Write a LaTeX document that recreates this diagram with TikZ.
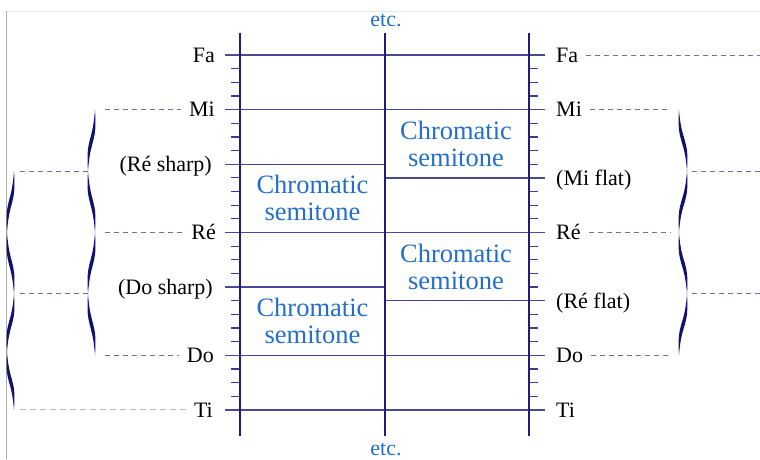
\documentclass[tikz,border=0pt]{standalone}
\usepackage{fontspec}
\setmainfont{Liberation Serif}
\definecolor{axisc}{RGB}{30,30,120}
\definecolor{hlinec}{RGB}{72,72,150}
\definecolor{tickc}{RGB}{60,60,140}
\definecolor{dashc}{RGB}{110,110,170}
\definecolor{greyd}{RGB}{185,185,185}
\definecolor{bracec}{RGB}{18,18,110}
\definecolor{blu}{RGB}{35,110,200}
\definecolor{framec}{RGB}{175,175,175}
\definecolor{framet}{RGB}{232,232,232}
% one arm of a wavy brace: end x, end y, tip x, tip y, half width
\newcommand\myarm[5]{%
  \fill[bracesty] (#1,#2) .. controls (#1-#5,{#2+0.55*(#4-#2)}) and (#3-#5,{#4-0.55*(#4-#2)}) .. (#3,#4)
    .. controls (#3+#5,{#4-0.55*(#4-#2)}) and (#1+#5,{#2+0.55*(#4-#2)}) .. cycle;}
\begin{document}
\begin{tikzpicture}[x=1pt,y=-1pt,
  lab/.style={font=\fontsize{22}{26}\selectfont, inner sep=0pt, text height=14.6pt, text depth=0pt},
  chrom/.style={font=\fontsize{26.5}{27}\selectfont, text=blu, align=center, inner sep=0pt},
  etcsty/.style={font=\fontsize{22}{24}\selectfont, text=blu, inner sep=0pt, anchor=base},
  axisl/.style={draw=axisc, line width=1.4pt},
  hline/.style={draw=hlinec, line width=1.4pt},
  ticksty/.style={draw=tickc, line width=1.2pt},
  dsh/.style={draw=dashc, line width=0.9pt, dash pattern=on 5pt off 4pt},
  dshg/.style={draw=greyd, line width=1pt, dash pattern=on 6pt off 4pt},
  bracesty/.style={fill=bracec},
]
\useasboundingbox (0,0) rectangle (760,459);
% frame remnants
\draw[framet, line width=1pt] (6,11) -- (760,11);
\draw[framec, line width=1pt] (6,11) -- (6,459);

% level values
\def\yFa{55}
\def\yMi{109.6}
\def\yRes{164.2}
\def\yMib{177.85}
\def\yRe{232.45}
\def\yDos{287.05}
\def\yReb{300.7}
\def\yDo{355.3}
\def\yTi{409.9}

% ticks
\foreach \k in {0,...,26}{
  \draw[ticksty] (231,55+\k*13.65) -- (240,55+\k*13.65);
  \draw[ticksty] (529,55+\k*13.65) -- (538,55+\k*13.65);
}

% full horizontal lines
\foreach \yy in {\yFa,\yMi,\yRe,\yDo,\yTi}{
  \draw[hline] (225,\yy) -- (545,\yy);
}
% partial lines
\draw[hline] (225,\yRes) -- (385,\yRes);
\draw[hline] (225,\yDos) -- (385,\yDos);
\draw[hline] (385,\yMib) -- (545,\yMib);
\draw[hline] (385,\yReb) -- (545,\yReb);

% axes
\draw[axisl] (240,33) -- (240,436);
\draw[axisl] (385,33) -- (385,436);
\draw[axisl] (529,33) -- (529,436);

% etc.
\node[etcsty] (etcT) at (386,26) {etc.};
\node[etcsty] (etcB) at (386,455) {etc.};

% chromatic semitone boxes
\node[chrom] (c1) at (456,143.7) {Chromatic\\semitone};
\node[chrom] (c2) at (312.5,198.3) {Chromatic\\semitone};
\node[chrom] (c3) at (456,266.6) {Chromatic\\semitone};
\node[chrom] (c4) at (312.5,321.2) {Chromatic\\semitone};

% left labels
\node[lab, anchor=east] (LFa) at (215,\yFa) {Fa};
\node[lab, anchor=east] (LMi) at (215,\yMi) {Mi};
\node[lab, anchor=east] (LRes) at (212,\yRes) {(Ré sharp)};
\node[lab, anchor=east] (LRe) at (216,\yRe) {Ré};
\node[lab, anchor=east] (LDos) at (213,\yDos) {(Do sharp)};
\node[lab, anchor=east] (LDo) at (214,\yDo) {Do};
\node[lab, anchor=east] (LTi) at (213,\yTi) {Ti};

% right labels
\node[lab, anchor=west] (RFa) at (556,\yFa) {Fa};
\node[lab, anchor=west] (RMi) at (556,\yMi) {Mi};
\node[lab, anchor=west] (RMib) at (556,\yMib) {(Mi flat)};
\node[lab, anchor=west] (RRe) at (556,\yRe) {Ré};
\node[lab, anchor=west] (RReb) at (556,\yReb) {(Ré flat)};
\node[lab, anchor=west] (RDo) at (556,\yDo) {Do};
\node[lab, anchor=west] (RTi) at (556,\yTi) {Ti};

% leader end coordinates
\coordinate (bLMi) at (105,\yMi);
\coordinate (bLRe) at (105,\yRe);
\coordinate (bLDo) at (105,\yDo);
\coordinate (tL1a) at (20,171);
\coordinate (tL1b) at (90,171);
\coordinate (tL2a) at (20,293.9);
\coordinate (tL2b) at (90,293.9);
\coordinate (bLTi) at (20,\yTi);
\coordinate (bRFa) at (760,\yFa);
\coordinate (bRMi) at (670,\yMi);
\coordinate (bRRe) at (670,\yRe);
\coordinate (bRDo) at (670,\yDo);
\coordinate (tR1a) at (692,171);
\coordinate (tR1b) at (760,171);
\coordinate (tR2a) at (692,293.9);
\coordinate (tR2b) at (760,293.9);

% dashed leaders left
\draw[dsh] (bLMi) -- ([xshift=-8pt]LMi.west);
\draw[dsh] (bLRe) -- ([xshift=-8pt]LRe.west);
\draw[dsh] (bLDo) -- ([xshift=-8pt]LDo.west);
\draw[dsh] (tL1a) -- (tL1b);
\draw[dsh] (tL2a) -- (tL2b);
\draw[dshg] (bLTi) -- ([xshift=-8pt]LTi.west);
% dashed leaders right
\draw[dsh] ([xshift=8pt]RFa.east) -- (bRFa);
\draw[dsh] ([xshift=8pt]RMi.east) -- (bRMi);
\draw[dsh] ([xshift=8pt]RRe.east) -- (bRRe);
\draw[dsh] ([xshift=8pt]RDo.east) -- (bRDo);
\draw[dsh] (tR1a) -- (tR1b);
\draw[dsh] (tR2a) -- (tR2b);

% braces (wavy, thick in the middle of each arm)
% left inner
\myarm{95}{109.6}{88}{171}{2.4}
\myarm{95}{232.45}{88}{171}{2.4}
\myarm{95}{232.45}{88}{293.9}{2.4}
\myarm{95}{355.3}{88}{293.9}{2.4}
% left outer
\myarm{14}{171}{7}{232.45}{2.4}
\myarm{14}{293.9}{7}{232.45}{2.4}
\myarm{14}{293.9}{7}{351.9}{2.4}
\myarm{14}{409.9}{7}{351.9}{2.4}
% right
\myarm{679}{109.6}{687}{171}{2.4}
\myarm{679}{232.45}{687}{171}{2.4}
\myarm{679}{232.45}{687}{293.9}{2.4}
\myarm{679}{355.3}{687}{293.9}{2.4}
\end{tikzpicture}
\end{document}
